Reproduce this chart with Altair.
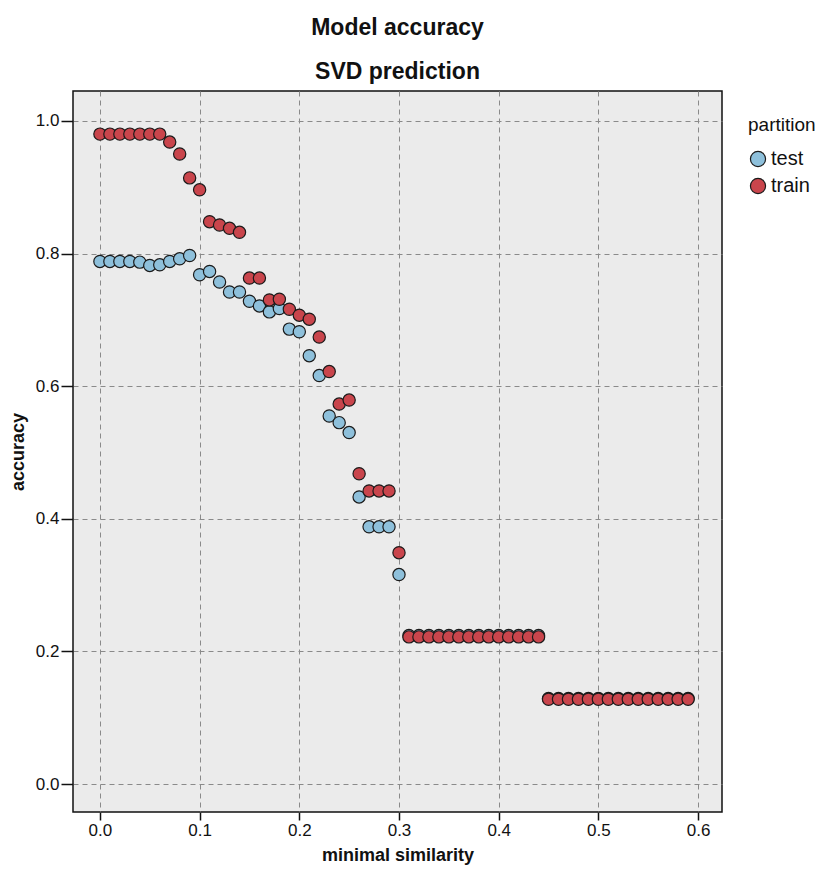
import altair as alt
import pandas as pd

similarity = [0.00, 0.01, 0.02, 0.03, 0.04, 0.05, 0.06, 0.07, 0.08, 0.09,
              0.10, 0.11, 0.12, 0.13, 0.14, 0.15, 0.16, 0.17, 0.18, 0.19,
              0.20, 0.21, 0.22, 0.23, 0.24, 0.25, 0.26, 0.27, 0.28, 0.29,
              0.30, 0.31, 0.32, 0.33, 0.34, 0.35, 0.36, 0.37, 0.38, 0.39,
              0.40, 0.41, 0.42, 0.43, 0.44, 0.45, 0.46, 0.47, 0.48, 0.49,
              0.50, 0.51, 0.52, 0.53, 0.54, 0.55, 0.56, 0.57, 0.58, 0.59]

test_acc = [0.788, 0.788, 0.788, 0.788, 0.787, 0.782, 0.783, 0.788, 0.792, 0.797,
            0.768, 0.773, 0.757, 0.742, 0.742, 0.728, 0.721, 0.712, 0.717, 0.686,
            0.682, 0.646, 0.616, 0.555, 0.545, 0.530, 0.433, 0.388, 0.388, 0.388,
            0.316, 0.224, 0.224, 0.224, 0.224, 0.224, 0.224, 0.224, 0.224, 0.224,
            0.224, 0.224, 0.224, 0.224, 0.224, 0.129, 0.129, 0.129, 0.129, 0.129,
            0.129, 0.129, 0.129, 0.129, 0.129, 0.129, 0.129, 0.129, 0.129, 0.129]

train_acc = [0.980, 0.980, 0.980, 0.980, 0.980, 0.980, 0.980, 0.968, 0.950, 0.914,
             0.896, 0.848, 0.843, 0.838, 0.832, 0.763, 0.763, 0.730, 0.731, 0.716,
             0.707, 0.701, 0.674, 0.622, 0.573, 0.579, 0.468, 0.442, 0.442, 0.442,
             0.349, 0.222, 0.222, 0.222, 0.222, 0.222, 0.222, 0.222, 0.222, 0.222,
             0.222, 0.222, 0.222, 0.222, 0.222, 0.128, 0.128, 0.128, 0.128, 0.128,
             0.128, 0.128, 0.128, 0.128, 0.128, 0.128, 0.128, 0.128, 0.128, 0.128]

partitions = ["test", "train"]
colors = ["#8EC0DB", "#C9454C"]
x_ticks = [0.0, 0.1, 0.2, 0.3, 0.4, 0.5, 0.6]
y_ticks = [0.0, 0.2, 0.4, 0.6, 0.8, 1.0]

rows = []
for p, vals in zip(partitions, [test_acc, train_acc]):
    for xv, yv in zip(similarity, vals):
        rows.append({"minimal similarity": xv, "accuracy": yv, "partition": p})
df = pd.DataFrame(rows)

FONT = "Liberation Sans"

chart = alt.Chart(df).mark_point(
    filled=True, size=150, stroke="#1a1a1a", strokeWidth=1.2, opacity=1
).encode(
    x=alt.X("minimal similarity:Q",
            scale=alt.Scale(domain=[-0.027, 0.624], nice=False, zero=False),
            axis=alt.Axis(values=x_ticks, format=".1f", title="minimal similarity")),
    y=alt.Y("accuracy:Q",
            scale=alt.Scale(domain=[-0.042, 1.045], nice=False, zero=False),
            axis=alt.Axis(values=y_ticks, format=".1f", title="accuracy")),
    color=alt.Color("partition:N",
                    scale=alt.Scale(domain=partitions, range=colors),
                    legend=alt.Legend(title="partition", orient="none",
                                      legendX=675, legendY=25,
                                      symbolType="circle", symbolSize=230,
                                      symbolStrokeColor="#1a1a1a",
                                      symbolStrokeWidth=1.2,
                                      labelFontSize=20, titleFontSize=19,
                                      titleFontWeight="normal",
                                      labelFont=FONT, titleFont=FONT,
                                      labelColor="#111", titleColor="#111",
                                      titlePadding=14, rowPadding=7,
                                      labelOffset=3)),
    order=alt.Order("order:Q"),
).transform_calculate(
    order="datum.partition == 'test' ? 0 : 1"
).properties(
    width=649, height=721,
    padding={"left": 73, "top": 91, "right": 108, "bottom": 65},
    autosize=alt.AutoSizeParams(type="none"),
    background="white",
    title=alt.TitleParams(
        text="Model accuracy", subtitle="SVD prediction",
        font=FONT, fontSize=23, fontWeight="bold", color="#111",
        subtitleFont=FONT, subtitleFontSize=23, subtitleFontWeight="bold",
        subtitleColor="#111", subtitlePadding=21, offset=7,
        anchor="middle", frame="group"),
).configure_view(
    fill="#EBEBEB", stroke="#111", strokeWidth=1.5
).configure_axis(
    grid=True, gridColor="#8a8a8a", gridDash=[5, 4], gridWidth=1, gridOpacity=1,
    domain=False, ticks=True, tickColor="#111", tickWidth=1.5, tickSize=8,
    labelFont=FONT, labelFontSize=17, labelColor="#111", labelPadding=2,
    titleFont=FONT, titleFontSize=18, titleFontWeight="bold", titleColor="#111",
).configure_axisY(
    titlePadding=8, tickSize=12
).configure_axisX(
    titlePadding=8
)

chart.save("out.html", embed_options={"renderer": "svg", "actions": False})
